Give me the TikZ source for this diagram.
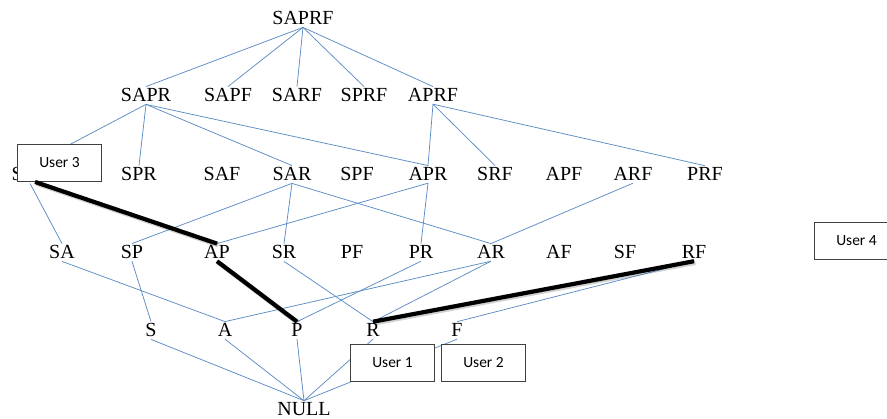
\documentclass[tikz,border=0pt]{standalone}
\usepackage{fontspec}
\setmainfont{Liberation Serif}
\newfontfamily\boxfont{Carlito}
\definecolor{edgeblue}{RGB}{92,140,196}
\begin{document}
\begin{tikzpicture}[x=1pt,y=-1pt,
  lbl/.style={inner xsep=0pt, inner ysep=2pt, anchor=base, font=\fontsize{20}{24}\selectfont},
  edge/.style={draw=edgeblue, line width=0.75pt},
  userlink/.style={draw=black, line width=4.2pt},
  usershadow/.style={draw=black, line width=5pt, opacity=0.18, transform canvas={xshift=1.3pt,yshift=-1.3pt}},
  userbox/.style={draw=black!75, line width=0.9pt, fill=white, minimum width=84pt, minimum height=37pt, inner sep=0pt, font=\boxfont\fontsize{15.5}{18}\selectfont}]
\useasboundingbox (0,0) rectangle (887,419);
\clip (0,0) rectangle (887,419);
% row 1
\node[lbl] (SAPRF) at (303,25) {SAPRF};
% row 2
\node[lbl] (SAPR) at (146,102) {SAPR};
\node[lbl] (SAPF) at (228,102) {SAPF};
\node[lbl] (SARF) at (297,102) {SARF};
\node[lbl] (SPRF) at (364,102) {SPRF};
\node[lbl] (APRF) at (433,102) {APRF};
% row 3
\node[lbl] (SAP) at (30,181) {SAP};
\node[lbl] (SPR) at (139,181) {SPR};
\node[lbl] (SAF) at (222,181) {SAF};
\node[lbl] (SAR) at (292,181) {SAR};
\node[lbl] (SPF) at (357,181) {SPF};
\node[lbl] (APR) at (428,181) {APR};
\node[lbl] (SRF) at (495,181) {SRF};
\node[lbl] (APF) at (564,181) {APF};
\node[lbl] (ARF) at (633,181) {ARF};
\node[lbl] (PRF) at (705,181) {PRF};
% row 4
\node[lbl] (SA) at (62,259) {SA};
\node[lbl] (SP) at (132,259) {SP};
\node[lbl] (AP) at (217,259) {AP};
\node[lbl] (SR) at (284,259) {SR};
\node[lbl] (PF) at (352,259) {PF};
\node[lbl] (PR) at (421,259) {PR};
\node[lbl] (AR) at (491,259) {AR};
\node[lbl] (AF) at (559,259) {AF};
\node[lbl] (SF) at (625,259) {SF};
\node[lbl] (RF) at (694,259) {RF};
% row 5
\node[lbl] (S) at (151,337) {S};
\node[lbl] (A) at (225,337) {A};
\node[lbl] (P) at (297,337) {P};
\node[lbl] (R) at (373,337) {R};
\node[lbl] (F) at (457,337) {F};
% bottom
\node[lbl] (NULL) at (304,416) {NULL};
% blue edges
\foreach \c in {SAPR,SAPF,SARF,SPRF,APRF} \draw[edge] (SAPRF.south) -- (\c.north);
\foreach \c in {SAP,SPR,SAR,APR} \draw[edge] (SAPR.south) -- (\c.north);
\foreach \c in {APR,SRF,PRF} \draw[edge] (APRF.south) -- (\c.north);
\draw[edge] (SAP.south) -- (SA.north);
\foreach \c in {SP,SR,AR} \draw[edge] (SAR.south) -- (\c.north);
\foreach \c in {AP,PR} \draw[edge] (APR.south) -- (\c.north);
\draw[edge] (ARF.south) -- (AR.north);
\draw[edge] (SA.south) -- (A.north);
\draw[edge] (SP.south) -- (S.north);
\draw[edge] (SR.south) -- (R.north);
\draw[edge] (PR.south) -- (P.north);
\draw[edge] (AR.south) -- (A.north);
\draw[edge] (AR.south) -- (R.north);
\draw[edge] (RF.south) -- (F.north);
\foreach \c in {S,A,P,R,F} \draw[edge] (\c.south) -- (NULL.north);
% user boxes
\node[userbox] (U3) at (59.5,163) {User 3};
\node[userbox] (U4) at (856.5,240.5) {User 4};
\node[userbox] (U1) at (392.5,363) {User 1};
\node[userbox] (U2) at (483.5,363) {User 2};
\coordinate (u3) at ([xshift=18pt]U3.south west);
% thick user links
\draw[usershadow] (u3) -- (AP.north);
\draw[usershadow] (AP.south) -- (P.north);
\draw[usershadow] (R.north) -- (RF.south);
\draw[userlink] (u3) -- (AP.north);
\draw[userlink] (AP.south) -- (P.north);
\draw[userlink] (R.north) -- (RF.south);
\end{tikzpicture}
\end{document}
